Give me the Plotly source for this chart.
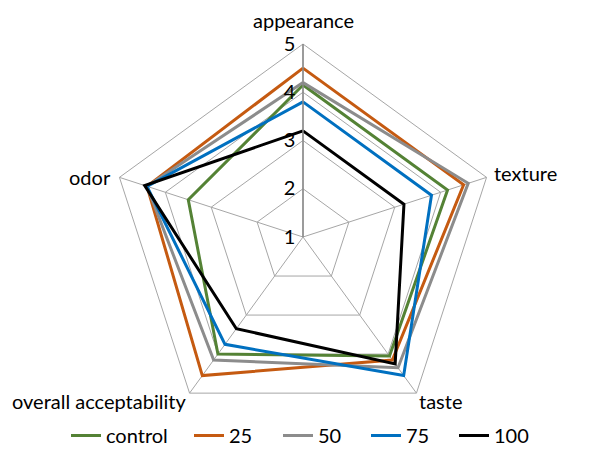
import plotly.graph_objects as go

# Sensory attributes, clockwise from the top
attributes = ["appearance", "texture", "taste", "overall acceptability", "odor"]

# Mean panel scores for each formulation
control = [4.15, 4.15, 4.05, 4.0, 3.5]
level_25 = [4.5, 4.5, 4.15, 4.55, 4.4]
level_50 = [4.2, 4.6, 4.35, 4.15, 4.4]
level_75 = [3.8, 3.8, 4.55, 3.75, 4.4]
level_100 = [3.2, 3.2, 4.25, 3.35, 4.45]

series_names = ["control", "25", "50", "75", "100"]
series_values = [control, level_25, level_50, level_75, level_100]
series_colors = ["#548235", "#C55A11", "#8C8C8C", "#0070C0", "#000000"]

radial_ticks = [1, 2, 3, 4, 5]

FONT = "Lato, Carlito, Calibri, sans-serif"
FS = 20

# one legend per series so each entry can sit at its own spot along the bottom
legend_x = [66 / 609, 189 / 609, 278 / 609, 366 / 609, 454 / 609]

# category label placement around the pentagon (px from top-left, anchors)
label_pos = [
    (303, 20, "center"),
    (492, 173, "left"),
    (417, 401, "left"),
    (188, 401, "right"),
    (113, 177, "right"),
]

fig = go.Figure()
for i, (name, vals, color) in enumerate(zip(series_names, series_values, series_colors)):
    fig.add_trace(go.Scatterpolar(
        r=vals + vals[:1],
        theta=attributes + attributes[:1],
        mode="lines",
        name=name,
        line=dict(color=color, width=3),
        legend="legend" if i == 0 else f"legend{i + 1}",
    ))

for label, (px, py, anchor) in zip(attributes, label_pos):
    fig.add_annotation(
        text=label,
        x=px / 609, y=1 - py / 455,
        xref="paper", yref="paper",
        xanchor=anchor, yanchor="middle",
        showarrow=False,
        font=dict(family=FONT, size=FS, color="#000000"),
    )

legend_style = dict(
    orientation="h",
    yanchor="bottom",
    yref="container",
    xanchor="left",
    font=dict(family=FONT, size=FS, color="#000000"),
    bgcolor="rgba(0,0,0,0)",
    borderwidth=0,
    itemwidth=30,
)
legends = {}
for i, x in enumerate(legend_x):
    key = "legend" if i == 0 else f"legend{i + 1}"
    legends[key] = dict(legend_style, x=x, y=-0.018)

fig.update_layout(
    width=609,
    height=455,
    margin=dict(l=0, r=0, t=0, b=0, autoexpand=False),
    paper_bgcolor="white",
    plot_bgcolor="white",
    font=dict(family=FONT, size=FS, color="#000000"),
    polar=dict(
        domain=dict(x=[110 / 609, 496 / 609], y=[1 - 430 / 455, 1 - 44 / 455]),
        bgcolor="white",
        gridshape="linear",
        angularaxis=dict(
            rotation=90,
            direction="clockwise",
            showline=True,
            linecolor="#A6A6A6",
            linewidth=1,
            gridcolor="#A6A6A6",
            gridwidth=1,
            ticks="",
            showticklabels=False,
        ),
        radialaxis=dict(
            range=[1, 5],
            tickvals=radial_ticks,
            ticktext=[str(t) for t in radial_ticks],
            angle=90,
            tickangle=90,
            side="counterclockwise",
            showline=True,
            linecolor="#898989",
            linewidth=1.5,
            gridcolor="#A6A6A6",
            gridwidth=1,
            ticks="",
            tickfont=dict(family=FONT, size=FS, color="#000000"),
        ),
    ),
    showlegend=True,
    **legends,
)

fig.write_html("out.html")
